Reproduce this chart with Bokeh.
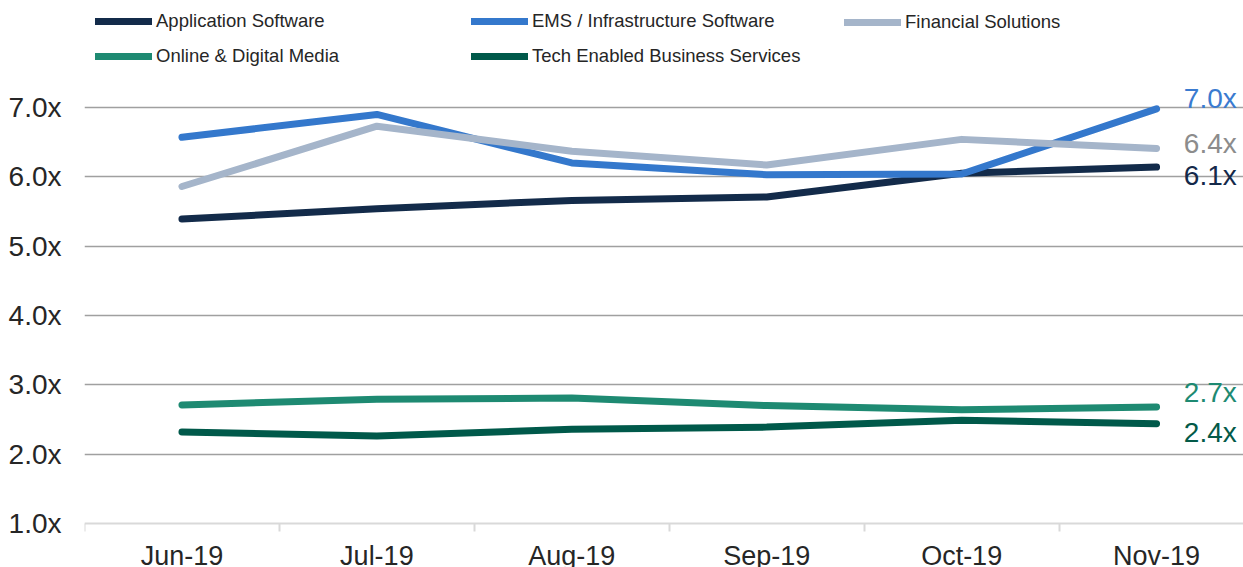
from bokeh.plotting import figure
from bokeh.models import (Range1d, FixedTicker, PrintfTickFormatter, Legend,
                          LegendItem, Grid, ColumnDataSource)
from bokeh.core.properties import value
from bokeh.embed import file_html
from bokeh.resources import INLINE

# ---------------- data ----------------
months = ["Jun-19", "Jul-19", "Aug-19", "Sep-19", "Oct-19", "Nov-19"]
application_software = [5.39, 5.54, 5.66, 5.71, 6.05, 6.14]
ems_infrastructure = [6.57, 6.90, 6.20, 6.03, 6.04, 6.98]
financial_solutions = [5.86, 6.73, 6.37, 6.17, 6.54, 6.41]
online_digital_media = [2.71, 2.79, 2.81, 2.70, 2.64, 2.68]
tech_enabled_services = [2.32, 2.26, 2.36, 2.39, 2.49, 2.44]
series_names = ["Application Software", "EMS / Infrastructure Software",
                "Financial Solutions", "Online & Digital Media",
                "Tech Enabled Business Services"]
y_ticks = [1, 2, 3, 4, 5, 6, 7]

# ---------------- styles ----------------
FONT = "Liberation Sans"
line_colors = ["#132B4A", "#3478CC", "#A5B5CA", "#1E8A72", "#00594A"]
label_colors = ["#14294A", "#3A7BD0", "#8C8C8C", "#1E8A72", "#035A48"]
label_offsets = [8, -10, -5, -14, 9]   # px, screen (down positive)
label_x = 5.14
grid_color = "#A0A0A0"
axis_color = "#D9D9D9"

p = figure(width=1243, height=567, output_backend="svg", toolbar_location=None,
           x_range=Range1d(-0.5, 5.446), y_range=Range1d(0.365, 8.543),
           min_border_left=84, min_border_right=0, min_border_top=0,
           min_border_bottom=0)
p.outline_line_color = None
p.background_fill_color = "white"
p.border_fill_color = "white"

# grids
p.xgrid.visible = False
p.ygrid.ticker = FixedTicker(ticks=[2, 3, 6, 7])
p.ygrid.bounds = (-0.5, 5.05)
p.ygrid.grid_line_color = grid_color
p.ygrid.grid_line_width = 1.5
g2 = Grid(dimension=1, ticker=FixedTicker(ticks=[4, 5]), bounds=(-0.5, 4.99),
          grid_line_color=grid_color, grid_line_width=1.5)
p.add_layout(g2)

# x axis (drawn at y = 1.0)
xa = p.xaxis[0]
xa.fixed_location = 1.0
xa.ticker = FixedTicker(ticks=list(range(len(months))),
                        minor_ticks=[i - 0.5 for i in range(len(months) + 1)])
xa.major_label_overrides = {i: m for i, m in enumerate(months)}
xa.major_tick_line_color = None
xa.major_tick_out = 0
xa.major_tick_in = 0
xa.minor_tick_line_color = axis_color
xa.minor_tick_line_width = 2
xa.minor_tick_out = 8
xa.minor_tick_in = 0
xa.axis_line_color = axis_color
xa.axis_line_width = 2
xa.major_label_text_font = FONT
xa.major_label_text_font_size = "27px"
xa.major_label_text_color = "#262626"
xa.major_label_standoff = 10

# y axis
ya = p.yaxis[0]
ya.ticker = FixedTicker(ticks=y_ticks)
ya.formatter = PrintfTickFormatter(format="%.1fx")
ya.axis_line_color = None
ya.major_tick_line_color = None
ya.minor_tick_line_color = None
ya.major_label_text_font = FONT
ya.major_label_text_font_size = "28px"
ya.major_label_text_color = "#262626"
ya.major_label_standoff = 17

# lines
all_series = [application_software, ems_infrastructure, financial_solutions,
              online_digital_media, tech_enabled_services]
xs = list(range(len(months)))
renderers = []
for vals, col in zip(all_series, line_colors):
    r = p.line(xs, vals, line_width=7, line_color=col,
               line_cap="round", line_join="round")
    renderers.append(r)

# end labels
last_vals = [s[-1] for s in all_series]
src = ColumnDataSource(dict(
    x=[label_x] * len(last_vals), y=last_vals,
    text=[f"{v:.1f}x" for v in last_vals],
    color=label_colors, off=label_offsets))
p.text(x="x", y="y", text="text", source=src, text_color="color",
       y_offset="off", text_font=value(FONT), text_font_size="28px",
       text_baseline="middle", text_align="left")

# legends (three columns)
def make_legend(idx, loc):
    lg = Legend(items=[LegendItem(label=series_names[i], renderers=[renderers[i]])
                       for i in idx],
                location=loc, orientation="vertical",
                glyph_width=57, glyph_height=20, label_height=20,
                spacing=13, label_standoff=4, padding=0, margin=0,
                border_line_color=None, background_fill_alpha=0,
                label_text_font=FONT, label_text_font_size="18.5px",
                label_text_color="#262626")
    p.add_layout(lg)

make_legend([0, 3], (11, 500.5))
make_legend([1, 4], (387, 500.5))
make_legend([2], (760, 534.5))

open("out.html", "w").write(file_html(p, INLINE))
